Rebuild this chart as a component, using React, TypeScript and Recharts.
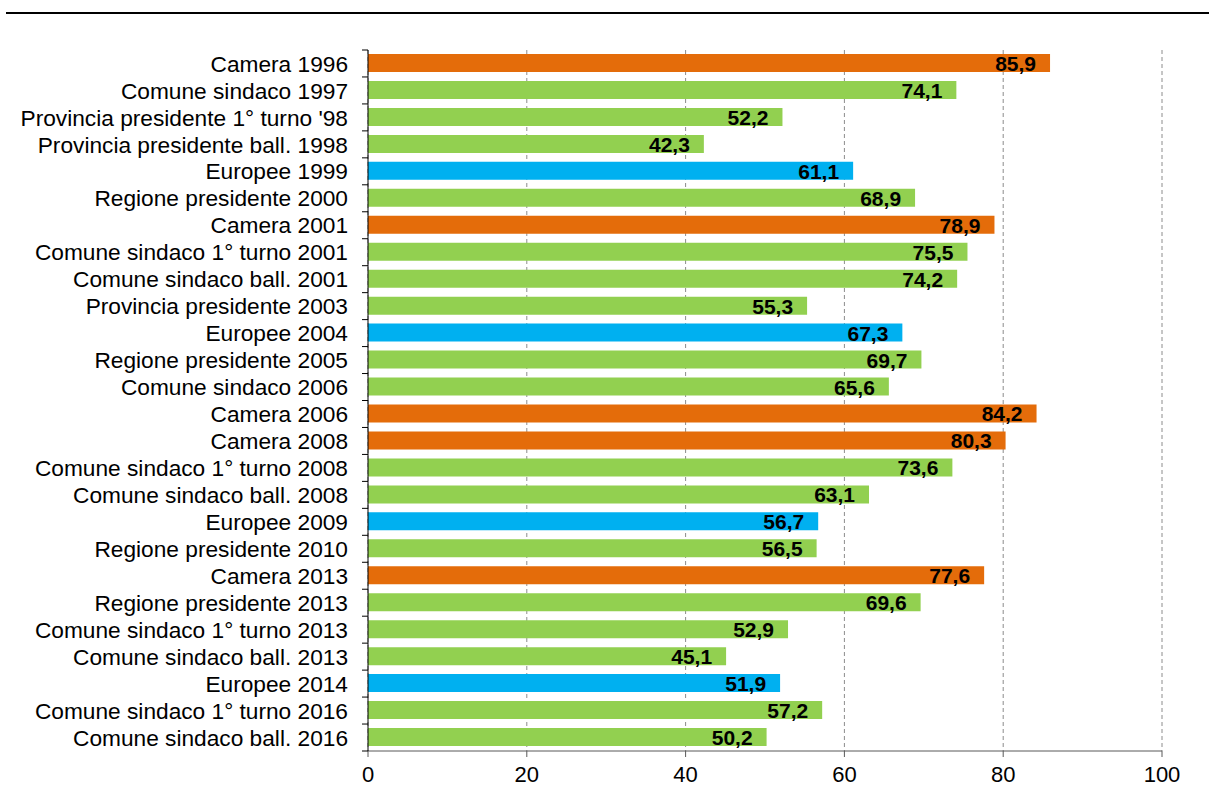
import { Bar, BarChart, CartesianGrid, Cell, LabelList, XAxis, YAxis } from "recharts";

const categories = [
  "Camera 1996",
  "Comune sindaco 1997",
  "Provincia presidente 1° turno '98",
  "Provincia presidente ball. 1998",
  "Europee 1999",
  "Regione presidente 2000",
  "Camera 2001",
  "Comune sindaco 1° turno 2001",
  "Comune sindaco ball. 2001",
  "Provincia presidente 2003",
  "Europee 2004",
  "Regione presidente 2005",
  "Comune sindaco 2006",
  "Camera 2006",
  "Camera 2008",
  "Comune sindaco 1° turno 2008",
  "Comune sindaco ball. 2008",
  "Europee 2009",
  "Regione presidente 2010",
  "Camera 2013",
  "Regione presidente 2013",
  "Comune sindaco 1° turno 2013",
  "Comune sindaco ball. 2013",
  "Europee 2014",
  "Comune sindaco 1° turno 2016",
  "Comune sindaco ball. 2016",
];

const turnout = [
  85.9, 74.1, 52.2, 42.3, 61.1, 68.9, 78.9, 75.5, 74.2, 55.3, 67.3, 69.7, 65.6,
  84.2, 80.3, 73.6, 63.1, 56.7, 56.5, 77.6, 69.6, 52.9, 45.1, 51.9, 57.2, 50.2,
];

const xTicks = [0, 20, 40, 60, 80, 100];

const data = categories.map((name, i) => ({ name, value: turnout[i] }));

const colorFor = (name: string) =>
  name.startsWith("Camera") ? "#E46C0A" : name.startsWith("Europee") ? "#00B0F0" : "#92D050";

const FONT = "Arial, 'Liberation Sans', sans-serif";
const CHART_H = 807;
const X_AXIS_H = 30;
const MARGIN = { top: 50, right: 47, bottom: 56 - X_AXIS_H, left: 8 };
const BAND = (CHART_H - MARGIN.top - MARGIN.bottom - X_AXIS_H) / categories.length;

function CategoryTick(props: any) {
  const { x, y, payload, index } = props;
  const axisX = x + 20;
  return (
    <g>
      <line x1={axisX - 6} x2={axisX} y1={y - BAND / 2} y2={y - BAND / 2} stroke="#000" />
      {index === categories.length - 1 && (
        <line x1={axisX - 6} x2={axisX} y1={y + BAND / 2} y2={y + BAND / 2} stroke="#000" />
      )}
      <text x={x} y={y} dy="0.36em" textAnchor="end" fontSize={22.7} fill="#000" fontFamily={FONT}>
        {payload.value}
      </text>
    </g>
  );
}

function ValueLabel(props: any) {
  const { x, y, width, height, value } = props;
  return (
    <text
      x={x + width - 14}
      y={y + height / 2}
      dy="0.38em"
      textAnchor="end"
      fontSize={21}
      fontWeight="bold"
      fill="#000"
      fontFamily={FONT}
    >
      {Number(value).toFixed(1).replace(".", ",")}
    </text>
  );
}

export default function App() {
  return (
    <div style={{ position: "absolute", left: 0, top: 0, width: 1209, height: CHART_H, background: "#fff" }}>
      <div style={{ position: "absolute", left: 6, right: 0, top: 12, height: 2, background: "#000" }} />
      <BarChart width={1209} height={CHART_H} data={data} layout="vertical" margin={MARGIN}>
        <CartesianGrid horizontal={false} stroke="#8c8c8c" strokeDasharray="4 3" />
        <XAxis
          type="number"
          domain={[0, 100]}
          ticks={xTicks}
          interval={0}
          height={X_AXIS_H}
          tickSize={6}
          tickMargin={9}
          stroke="#595959"
          tick={{ fontSize: 22, fill: "#000", fontFamily: FONT }}
        />
        <YAxis
          type="category"
          dataKey="name"
          width={360}
          interval={0}
          tickLine={false}
          tickSize={0}
          tickMargin={20}
          stroke="#000"
          tick={<CategoryTick />}
        />
        <Bar dataKey="value" barSize={18} isAnimationActive={false}>
          {data.map((d) => (
            <Cell key={d.name} fill={colorFor(d.name)} />
          ))}
          <LabelList dataKey="value" content={<ValueLabel />} />
        </Bar>
      </BarChart>
    </div>
  );
}
